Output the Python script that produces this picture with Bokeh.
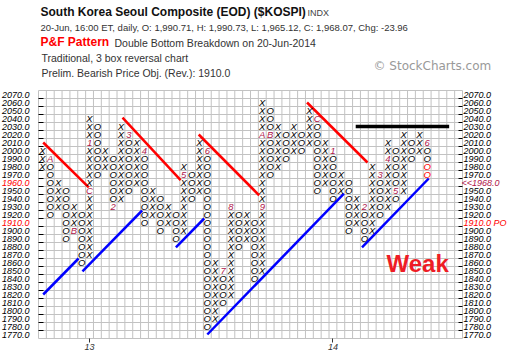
from bokeh.plotting import figure
from bokeh.models import FixedTicker, LinearAxis, Label, ColumnDataSource, Range1d
from bokeh.embed import file_html
from bokeh.resources import INLINE
from bokeh.core.properties import value

# ---------------- data ----------------
box_size = 10
col_type = ["X", "O"] * 25
col_low = [1980, 1920, 1930, 1890, 1900, 1860, 1870, 1970, 1980, 1930,
           1940, 1950, 1960, 1910, 1920, 1900, 1910, 1890, 1900, 1940,
           1950, 1780, 1790, 1810, 1820, 1880, 1890, 1840, 1850, 1970,
           1980, 1990, 2000, 2000, 2010, 1950, 1960, 1940, 1950, 1900,
           1910, 1890, 1900, 1920, 1930, 1940, 1950, 1990, 2000, 1970]
col_high = [2000, 1990, 1960, 1950, 1930, 1920, 2040, 2030, 2000, 1990,
            2030, 2020, 2010, 2000, 1950, 1940, 1930, 1920, 1980, 1970,
            2010, 2000, 1860, 1850, 1930, 1920, 1920, 1910, 2060, 2050,
            2030, 2020, 2030, 2020, 2050, 2040, 2010, 2000, 1970, 1960,
            1940, 1930, 1980, 1970, 2010, 2000, 2020, 2010, 2020, 2010]
month_cols = [1, 4, 6, 6, 9, 11, 13, 18, 21, 23, 24, 28, 28, 29, 35, 37, 41, 43, 44, 45, 49]
month_prices = [1990, 1900, 1950, 2010, 1930, 2020, 2000, 1970, 2000, 1850, 1930,
                1930, 2020, 2020, 2040, 2000, 1930, 1970, 1990, 1950, 2010]
month_labels = ["A", "B", "C", "1", "2", "3", "4", "5", "6", "7", "8",
                "9", "A", "B", "C", "1", "2", "3", "4", "5", "6"]
latest_cols = [49, 49]
latest_prices = [1980, 1970]
price_ticks = list(range(1770, 2071, 10))
date_tick_cols = [6, 37]
date_tick_labels = ["13", "14"]

# trend lines (column index, price)
bear_x0 = [0.1, 10.2, 19.9, 33.7]
bear_y0 = [2010, 2041, 2020, 2060]
bear_x1 = [5.9, 17.6, 27.6, 41.4]
bear_y1 = [1954, 1963, 1944, 1985]
bull_x0 = [0.1, 5.1, 17.0, 21.0, 40.7]
bull_y0 = [1820, 1849, 1879, 1770, 1879]
bull_x1 = [4.6, 12.7, 20.6, 38.4, 49.2]
bull_y1 = [1865, 1925, 1915, 1946, 1965]
res_x0 = [39.9]
res_x1 = [51.8]
res_y = [2030]

current_price_label = "<<1968.0"
objective_price = 1910
current_box = 1960

# ---------------- layout helpers (page pixels -> data) ----------------
W, H = 516, 358
FR_L, FR_T = 38, 90            # grid position on the page (px)
FW, FH = 424, 248
X0, X1 = -0.5, 53.5
Y0, Y1 = 1765, 2075
PXC = FW / (X1 - X0)
PXP = FH / (Y1 - Y0)


def gx(px):
    return (px - FR_L) / PXC + X0


def gy(py):
    return Y1 - (py - FR_T) / PXP


def py_of(price):
    return FR_T + (Y1 - price) * PXP


# ---------------- points ----------------
marked = set(zip(month_cols, month_prices)) | set(zip(latest_cols, latest_prices))
xs, ys, ts = [], [], []
for c, (k, lo, hi) in enumerate(zip(col_type, col_low, col_high)):
    for pr in range(lo, hi + box_size, box_size):
        if (c, pr) in marked:
            continue
        xs.append(c)
        ys.append(pr)
        ts.append(k)

p = figure(width=W, height=H,
           x_range=Range1d(gx(0), gx(W)), y_range=Range1d(gy(H), gy(0)),
           x_axis_location=None, y_axis_location=None,
           output_backend="svg", toolbar_location=None, min_border=0,
           background_fill_color="white", border_fill_color="white")
p.outline_line_color = None
p.grid.visible = False

# grid on box boundaries
grid_col = "#c2c2c2"
vx = [X0 + i for i in range(int(X1 - X0) + 1)]
p.segment(x0=vx, y0=[Y0] * len(vx), x1=vx, y1=[Y1] * len(vx), line_color=grid_col, line_width=1)
hy = list(range(Y0, Y1 + 1, box_size))
p.segment(x0=[X0] * len(hy), y0=hy, x1=[X1] * len(hy), y1=hy, line_color=grid_col, line_width=1)

# axes fixed on the grid edges
axis_font = "Liberation Sans"
common = dict(minor_tick_line_color=None, axis_line_color=None,
              major_label_text_font=axis_font, major_label_text_font_style="italic",
              major_label_text_font_size="9px")
box_edges = [pr - box_size / 2 for pr in price_ticks[1:]]

bx = LinearAxis(fixed_location=Y0, ticker=FixedTicker(ticks=date_tick_cols),
                major_label_overrides={c: l for c, l in zip(date_tick_cols, date_tick_labels)},
                major_tick_in=0, major_tick_out=4, major_label_standoff=1,
                major_tick_line_color="#333333", major_label_text_color="#333333", **common)
p.add_layout(bx, "below")

# tick marks on box edges (no labels)
for side, loc, tin in (("left", X0, 5), ("right", X1, 4)):
    tk = LinearAxis(fixed_location=loc, ticker=FixedTicker(ticks=box_edges),
                    major_label_overrides={e: "" for e in box_edges},
                    major_tick_in=tin, major_tick_out=0, major_tick_line_color="black", **common)
    p.add_layout(tk, side)

left_over = {pr: f"{pr:.1f}" for pr in price_ticks}
left_over[current_box] = ""
left_over[objective_price] = ""
ly = LinearAxis(fixed_location=X0, ticker=FixedTicker(ticks=price_ticks),
                major_label_overrides=left_over, major_tick_line_color=None,
                major_tick_in=0, major_tick_out=0,
                major_label_standoff=9, major_label_text_color="black", **common)
p.add_layout(ly, "left")

right_over = {pr: f"{pr:.1f}" for pr in price_ticks}
right_over[current_box] = ""
right_over[objective_price] = ""
ry = LinearAxis(fixed_location=X1, ticker=FixedTicker(ticks=price_ticks),
                major_label_overrides=right_over, major_tick_line_color=None,
                major_tick_in=0, major_tick_out=0,
                major_label_standoff=1, major_label_text_color="black", **common)
p.add_layout(ry, "right")

# trend lines
p.segment(x0=bear_x0, y0=bear_y0, x1=bear_x1, y1=bear_y1, line_color="#ff0000", line_width=2.5)
p.segment(x0=bull_x0, y0=bull_y0, x1=bull_x1, y1=bull_y1, line_color="#0000ff", line_width=2.5)
p.segment(x0=res_x0, y0=res_y, x1=res_x1, y1=res_y, line_color="black", line_width=3.5)

# X / O boxes
src = ColumnDataSource(dict(x=xs, y=ys, t=ts))
p.text(x="x", y="y", text="t", source=src, text_align="center", text_baseline="middle",
       text_font=value("Liberation Sans"), text_font_style="italic",
       text_font_size="9.5px", text_color="black")
msrc = ColumnDataSource(dict(x=month_cols, y=month_prices, t=month_labels))
p.text(x="x", y="y", text="t", source=msrc, text_align="center", text_baseline="middle",
       text_font=value("Liberation Sans"), text_font_style="italic",
       text_font_size="9.5px", text_color="#b0154b")
lsrc = ColumnDataSource(dict(x=latest_cols, y=latest_prices, t=["O"] * len(latest_cols)))
p.text(x="x", y="y", text="t", source=lsrc, text_align="center", text_baseline="middle",
       text_font=value("Liberation Sans"), text_font_style="italic",
       text_font_size="9.5px", text_color="#ff0000")


def lab(text, px, py, size, color="#222222", font="Liberation Sans", style="normal",
        align="left", baseline="middle"):
    p.add_layout(Label(x=gx(px), y=gy(py), text=text, text_font=font,
                       text_font_size=size, text_font_style=style, text_color=color,
                       text_align=align, text_baseline=baseline))


# special price labels
lab(f"{current_box:.1f}", 29, py_of(current_box), "9px", "#ff0000", axis_font, "italic", "right")
lab(f"{objective_price:.1f}", 29, py_of(objective_price), "9px", "#ff0000", axis_font, "italic", "right")
lab(current_price_label, 461, py_of(current_box), "9px", "#b0154b", axis_font, "italic")
lab(f"{objective_price:.1f} PO", 463, py_of(objective_price), "9px", "#ff0000", axis_font, "italic")

# header texts
lab("South Korea Seoul Composite (EOD) ($KOSPI)", 40, 11.5, "12px", "#111111", style="bold")
lab("INDX", 307, 12, "9px", "#444444")
lab("20-Jun, 16:00 ET, daily, O: 1,990.71, H: 1,990.73, L: 1,965.12, C: 1,968.07, Chg: -23.96",
    40, 26.5, "9.5px", "#333333")
lab("P&F Pattern", 40, 41.5, "12px", "#ff0000", style="bold")
lab("Double Bottom Breakdown on 20-Jun-2014", 114, 42, "10.5px", "#333333")
lab("Traditional, 3 box reversal chart", 41, 57, "10.5px", "#333333")
lab("Prelim. Bearish Price Obj. (Rev.): 1910.0", 41, 72, "10.5px", "#333333")
lab("\u00a9 StockCharts.com", 373, 65, "12px", "#999999", "DejaVu Sans")
lab("Weak", 386, 263, "24px", "#ee1c25", style="bold", baseline="alphabetic")

open("out.html", "w").write(file_html(p, INLINE))
